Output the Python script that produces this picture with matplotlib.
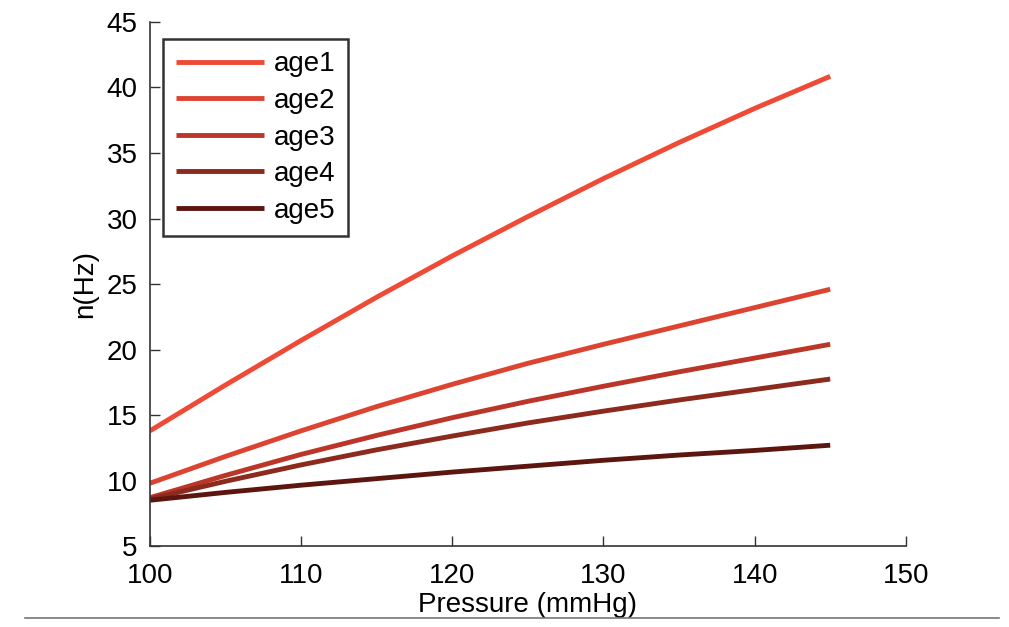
import matplotlib
matplotlib.use("Agg")
import matplotlib.pyplot as plt
from matplotlib.lines import Line2D

plt.rcParams['font.family'] = ['Liberation Sans', 'DejaVu Sans']

# pressure (mmHg)
pressure = [100, 105, 110, 115, 120, 125, 130, 135, 140, 145]

# frequency n (Hz) per age group
age1 = [13.8, 17.3, 20.7, 24.0, 27.15, 30.15, 33.05, 35.8, 38.4, 40.85]
age2 = [9.8, 11.85, 13.8, 15.65, 17.35, 18.95, 20.4, 21.8, 23.2, 24.6]
age3 = [8.7, 10.4, 12.0, 13.45, 14.8, 16.05, 17.2, 18.3, 19.35, 20.4]
age4 = [8.6, 9.95, 11.2, 12.35, 13.4, 14.4, 15.3, 16.15, 16.95, 17.75]
age5 = [8.5, 9.1, 9.65, 10.15, 10.65, 11.1, 11.55, 11.95, 12.3, 12.7]

labels = ['age1', 'age2', 'age3', 'age4', 'age5']
colors = ['#ee4a35', '#dc4431', '#bb3628', '#8c2a1d', '#5c160f']

fig = plt.figure(figsize=(10.09, 6.27), dpi=100)
ax = fig.add_axes([0.1487, 0.129, 0.749, 0.836])

for ys, lab, c in zip([age1, age2, age3, age4, age5], labels, colors):
    ax.plot(pressure, ys, color=c, lw=3.5, label=lab, solid_capstyle='butt')

ax.set_xlim(100, 150)
ax.set_ylim(5, 45)
ax.set_xticks(range(100, 151, 10))
ax.set_yticks(range(5, 46, 5))
ax.spines['top'].set_visible(False)
ax.spines['right'].set_visible(False)
for s in ['left', 'bottom']:
    ax.spines[s].set_color('#333333')
    ax.spines[s].set_linewidth(1.2)
ax.tick_params(direction='in', length=7, width=1, labelsize=20,
               colors='#333333', labelcolor='black')
ax.tick_params(axis='x', pad=12)
ax.tick_params(axis='y', pad=9)

ax.set_xlabel('Pressure (mmHg)', fontsize=20, labelpad=2)
ax.set_ylabel('n(Hz)', fontsize=20, labelpad=6)

leg = ax.legend(loc='upper left', bbox_to_anchor=(0.0172, 0.9676), fontsize=20,
                frameon=True, fancybox=False, edgecolor='black',
                handlelength=3.2, handletextpad=0.35, labelspacing=0.38,
                borderpad=0.45, borderaxespad=0)
leg.get_frame().set_linewidth(1.8)

fig.add_artist(Line2D([0.025, 0.99], [1 - 618 / 627, 1 - 618 / 627],
                      transform=fig.transFigure, color='#777777', lw=1.2))

fig.savefig('out.png', dpi=100)
